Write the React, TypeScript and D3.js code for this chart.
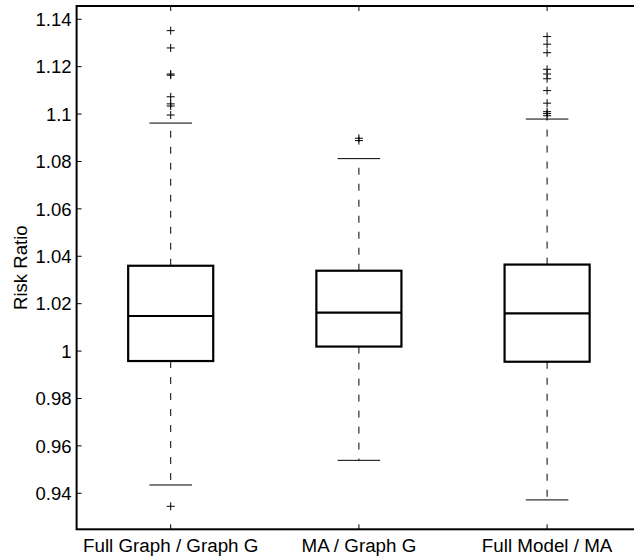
import React from "react";
import { scaleLinear } from "d3";

// box statistics
const categories = ["Full Graph / Graph G", "MA / Graph G", "Full Model / MA"];
const q1 = [0.9958, 1.0019, 0.9955];
const medians = [1.0148, 1.0162, 1.0159];
const q3 = [1.036, 1.0339, 1.0365];
const whiskerLow = [0.9435, 0.9539, 0.9372];
const whiskerHigh = [1.0962, 1.0812, 1.0979];
const outliers1 = [1.1352, 1.1279, 1.1169, 1.1164, 1.1073, 1.1043, 1.1034, 1.0996, 0.9345];
const outliers2 = [1.0898, 1.0888];
const outliers3 = [1.1327, 1.1295, 1.1259, 1.1189, 1.1169, 1.1149, 1.1099, 1.1046, 1.101, 1.1002, 1.0993];
const outliers = [outliers1, outliers2, outliers3];

const yTicks = [0.94, 0.96, 0.98, 1, 1.02, 1.04, 1.06, 1.08, 1.1, 1.12, 1.14];
const yTickLabels = ["0.94", "0.96", "0.98", "1", "1.02", "1.04", "1.06", "1.08", "1.1", "1.12", "1.14"];

const width = 634;
const height = 558;
const plot = { left: 76.6, right: 641.2, top: 6, bottom: 529.3 };
const font = "'Liberation Sans', Arial, Helvetica, sans-serif";

export default function App() {
    const x = scaleLinear().domain([0.5, 3.5]).range([plot.left, plot.right]);
    const y = scaleLinear().domain([0.9248, 1.1456]).range([plot.bottom, plot.top]);
    const boxHalf = 0.226;
    const capHalf = 0.113;
    const tick = 5;

    return (
        <svg width={width} height={height} style={{ position: "absolute", left: 0, top: 0, background: "#fff" }}>
            <rect x={0} y={0} width={width} height={height} fill="#fff" />

            {/* y ticks + labels */}
            {yTicks.map((t, i) => (
                <g key={"yt" + i}>
                    <line x1={plot.left} x2={plot.left + tick} y1={y(t)} y2={y(t)} stroke="#000" strokeWidth={1} />
                    <text x={plot.left - 5} y={y(t)} dy="0.36em" textAnchor="end"
                        fontFamily={font} fontSize={18.5}>{yTickLabels[i]}</text>
                </g>
            ))}

            {/* x ticks + labels */}
            {categories.map((c, i) => (
                <g key={"xt" + i}>
                    <line x1={x(i + 1)} x2={x(i + 1)} y1={plot.bottom} y2={plot.bottom - tick} stroke="#000" strokeWidth={1} />
                    <line x1={x(i + 1)} x2={x(i + 1)} y1={plot.top} y2={plot.top + tick} stroke="#000" strokeWidth={1} />
                    <text x={x(i + 1)} y={551.5} textAnchor="middle" fontFamily={font} fontSize={18.8}>{c}</text>
                </g>
            ))}

            <text transform={`translate(27, ${(plot.top + plot.bottom) / 2}) rotate(-90)`} textAnchor="middle"
                fontFamily={font} fontSize={18.6}>Risk Ratio</text>

            {/* boxes */}
            {categories.map((c, i) => {
                const cx = x(i + 1);
                const bl = x(i + 1 - boxHalf);
                const br = x(i + 1 + boxHalf);
                const cl = x(i + 1 - capHalf);
                const cr = x(i + 1 + capHalf);
                return (
                    <g key={"box" + i}>
                        <line x1={cx} x2={cx} y1={y(q3[i])} y2={y(whiskerHigh[i])} stroke="#000" strokeWidth={1} strokeDasharray="7,9" />
                        <line x1={cx} x2={cx} y1={y(q1[i])} y2={y(whiskerLow[i])} stroke="#000" strokeWidth={1} strokeDasharray="7,9" />
                        <line x1={cl} x2={cr} y1={y(whiskerHigh[i])} y2={y(whiskerHigh[i])} stroke="#000" strokeWidth={1} />
                        <line x1={cl} x2={cr} y1={y(whiskerLow[i])} y2={y(whiskerLow[i])} stroke="#000" strokeWidth={1} />
                        <rect x={bl} y={y(q3[i])} width={br - bl} height={y(q1[i]) - y(q3[i])}
                            fill="none" stroke="#000" strokeWidth={2.2} />
                        <line x1={bl} x2={br} y1={y(medians[i])} y2={y(medians[i])} stroke="#000" strokeWidth={2.2} />
                        {outliers[i].map((v, j) => (
                            <path key={j} d={`M${cx - 4},${y(v)}H${cx + 4}M${cx},${y(v) - 4}V${y(v) + 4}`}
                                stroke="#000" strokeWidth={1} fill="none" />
                        ))}
                    </g>
                );
            })}

            {/* frame */}
            <rect x={plot.left} y={plot.top} width={plot.right - plot.left} height={plot.bottom - plot.top}
                fill="none" stroke="#000" strokeWidth={2} />
        </svg>
    );
}
